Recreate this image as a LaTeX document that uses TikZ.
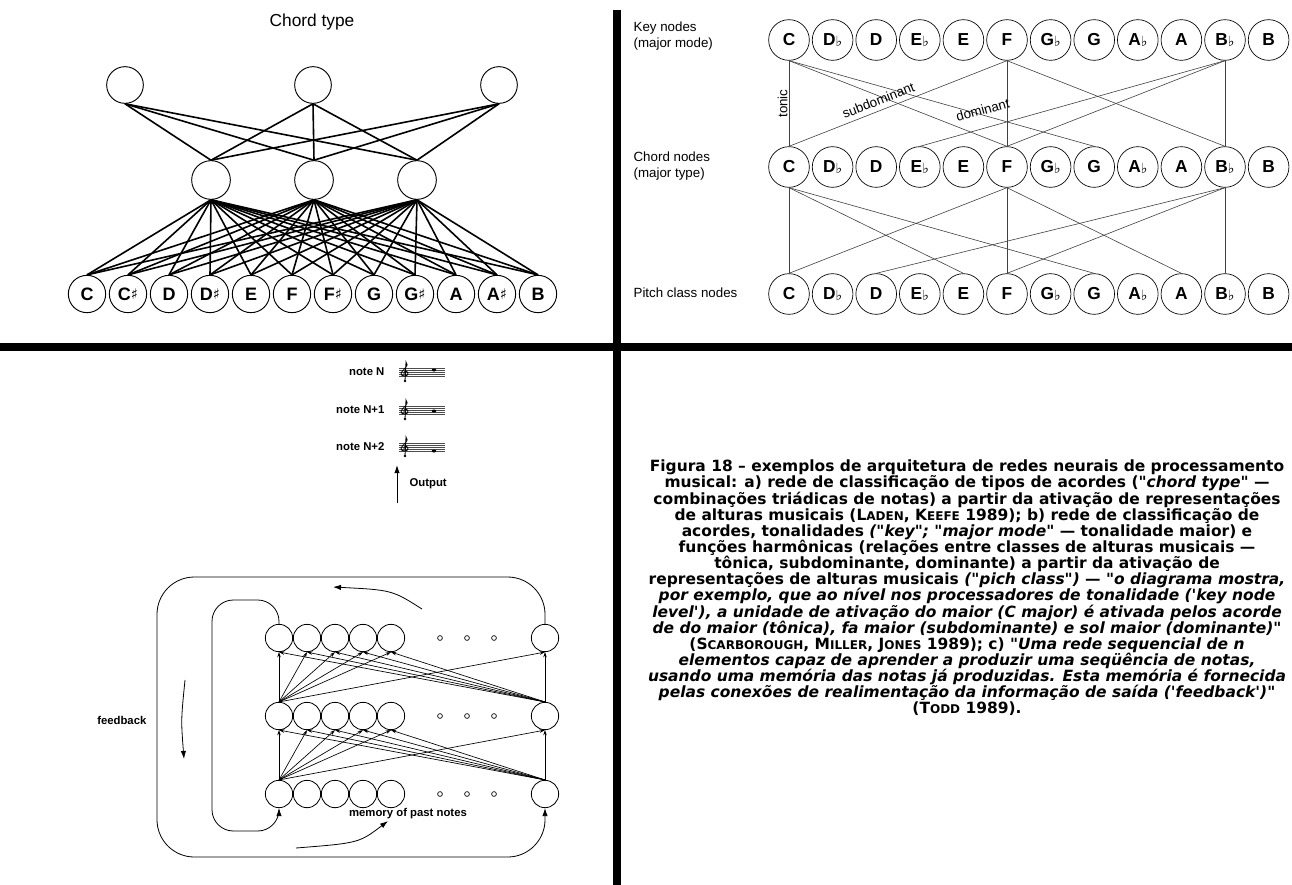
\documentclass[tikz,border=0pt]{standalone}
\usepackage{fontspec}
\setmainfont{Liberation Sans}
\newfontfamily\capfont{DejaVu Sans}
\newfontfamily\musfont{DejaVu Sans}
\usetikzlibrary{arrows.meta}

\newcommand{\shp}{\raisebox{0.5pt}{\musfont\fontsize{11}{11}\selectfont ♯}}
\newcommand{\flt}{\raisebox{-0.5pt}{\musfont\fontsize{10.5}{10.5}\selectfont ♭}}
\newcommand{\fsc}[2]{#1{\fontsize{9}{9}\selectfont #2}}

\tikzset{
  unit/.style={draw,circle,inner sep=0pt,line width=0.7pt},
  pitchunit/.style={unit,minimum size=28pt,font=\bfseries\fontsize{13.5}{13.5}\selectfont},
  keyunit/.style={unit,minimum size=30.5pt,line width=0.5pt,font=\bfseries\fontsize{13}{13}\selectfont},
  memunit/.style={unit,minimum size=20.5pt,line width=0.6pt},
  dotunit/.style={unit,minimum size=3.6pt,line width=0.5pt},
  tlink/.style={line width=1.2pt},
  klink/.style={line width=0.45pt,black!75},
  mlink/.style={line width=0.5pt,-{Stealth[length=4pt,width=2.6pt]}},
  lbl/.style={font=\fontsize{10}{11.5}\selectfont,inner sep=1pt},
  lbl3/.style={font=\bfseries\fontsize{8.5}{10}\selectfont,inner sep=1pt},
  staffline/.style={line width=0.3pt,black!70},
}

\begin{document}
\begin{tikzpicture}[x=0.75pt,y=0.75pt,yscale=-1,xscale=1]
\useasboundingbox (0,0) rectangle (1292,885);

%Straight Lines: panel frame
\coordinate (vtop) at (617,10);
\coordinate (vbot) at (617,885);
\coordinate (hleft) at (0,347);
\coordinate (hright) at (1292,347);
\draw [line width=5.8pt] (vtop) -- (vbot);
\draw [line width=5.8pt] (hleft) -- (hright);

% a) chord type network
\node [font=\fontsize{13}{13}\selectfont] (ctitle) at (312,22) {Chord type};
\foreach \i/\x in {1/125,2/313,3/499}
  \node [unit,minimum size=27.5pt] (top\i) at (\x,85) {};
\foreach \i/\x in {1/211,2/314,3/417}
  \node [unit,minimum size=29pt] (mid\i) at (\x,180) {};
\foreach \l [count=\i] in {C,C\shp,D,D\shp,E,F,F\shp,G,G\shp,A,A\shp,B}
  \node [pitchunit] (pc\i) at ({87+41*(\i-1)},294) {\l};
\foreach \t in {1,2,3}
  \foreach \m in {1,2,3}
    \draw [tlink] (top\t.south) -- (mid\m.north);
\foreach \m in {1,2,3}
  \foreach \p in {1,...,12}
    \draw [tlink] (mid\m.south) -- (pc\p.north);

% b) key / chord / pitch class network
\node [lbl,anchor=west,align=left] (keylbl) at (632,36) {Key nodes\\(major mode)};
\node [lbl,anchor=west,align=left] (chordlbl) at (632,166) {Chord nodes\\(major type)};
\node [lbl,anchor=west] (pitchlbl) at (632,293) {Pitch class nodes};
\foreach \l [count=\i] in {C,D\flt,D,E\flt,E,F,G\flt,G,A\flt,A,B\flt,B} {
  \node [keyunit] (k\i) at ({789+43.6*(\i-1)},40) {\l};
  \node [keyunit] (h\i) at ({789+43.6*(\i-1)},167) {\l};
  \node [keyunit] (q\i) at ({789+43.6*(\i-1)},294) {\l};
}
\foreach \a/\b in {1/1,1/6,1/8,6/6,6/11,6/1,11/11,11/4,11/6}
  \draw [klink] (k\a.south) -- (h\b.north);
\foreach \a/\b in {1/1,1/5,1/8,6/6,6/10,6/1,11/11,11/3,11/6}
  \draw [klink] (h\a.south) -- (q\b.north);
\path (k1.south) -- (h1.north) node [midway,rotate=90,anchor=south,lbl] (tonic) {tonic};
\path (k1.south) -- (h6.north) node [pos=0.4,sloped,below,lbl,inner sep=0.5pt] (subdom) {subdominant};
\path (k1.south) -- (h8.north) node [pos=0.64,sloped,above,lbl,inner sep=0.5pt] (dom) {dominant};

% c) sequential network
\foreach \t/\y/\ny [count=\i] in {note N/372/-2,note N+1/410/1,note N+2/447/4} {
  \node [lbl3,anchor=east] (note\i) at (386,\y) {\t};
  \foreach \s in {-4,-2,0,2,4}
    \draw [staffline] (399,\y+\s) -- (445,\y+\s);
  % clef
  \draw [line width=0.6pt] (405,\y+9) -- (406,\y-10)
    .. controls (410,\y-6) and (403,\y-3) .. (401,\y+1)
    .. controls (400,\y+5) and (409,\y+5) .. (408,\y+1)
    .. controls (407,\y-2) and (403,\y-1) .. (404,\y+2);
  \fill (405,\y+9) circle (1.3);
  \fill (434,\y+\ny) ellipse (2.3 and 1.5);
}
\coordinate (outA) at (397,503);
\coordinate (outB) at (397,465);
\draw [line width=0.7pt,-{Latex[length=6pt,width=4pt]}] (outA) -- (outB);
\node [lbl3,anchor=west] (outlbl) at (408,484) {Output};

\foreach \r/\y in {1/638,2/716,3/794} {
  \foreach \k in {1,...,5}
    \node [memunit] (m\r\k) at ({279+28*(\k-1)},\y) {};
  \foreach \d/\x in {1/440,2/467,3/494}
    \node [dotunit] (d\r\d) at (\x,\y) {};
  \node [memunit] (m\r6) at (545,\y) {};
}
\foreach \lo/\up in {2/1,3/2} {
  \foreach \k in {1,...,6}
    \draw [mlink] (m\lo1.north) -- (m\up\k.south);
  \foreach \k in {1,...,6}
    \draw [mlink] (m\lo6.north) -- (m\up\k.south);
}
% feedback loops
\draw [line width=0.6pt,rounded corners=28pt,-{Latex[length=6pt,width=4pt]}]
  (m16.north) -- (545,577) -- (157,577) -- (157,857) -- (545,857) -- (m36.south);
\draw [line width=0.6pt,rounded corners=16pt,-{Latex[length=6pt,width=4pt]}]
  (m11.north) -- (279,600) -- (212,600) -- (212,831) -- (279,831) -- (m31.south);
\coordinate (fbA) at (422,609);
\coordinate (fbB) at (333,587);
\draw [line width=0.6pt,-{Latex[length=6pt,width=4pt]}] (fbA) .. controls (392,590) .. (fbB);
\coordinate (fdA) at (185,680);
\coordinate (fdB) at (184,759);
\draw [line width=0.6pt,-{Latex[length=6pt,width=4pt]}] (fdA) .. controls (181,720) .. (fdB);
\coordinate (fmA) at (296,848);
\coordinate (fmB) at (388,821);
\draw [line width=0.6pt,-{Latex[length=6pt,width=4pt]}] (fmA) .. controls (359,843) .. (fmB);
\node [lbl3,anchor=east] (fblbl) at (148,720) {feedback};
\node [lbl3] (memlbl) at (408,814) {memory of past notes};

% Text Node: caption
\node [font=\capfont\bfseries\fontsize{11.6}{12.1}\selectfont,align=center] (caption) at (967,588)
 {Figura 18 – exemplos de arquitetura de redes neurais de processamento\\
  musical: a) rede de classificação de tipos de acordes ("\textit{chord type"} —\\
  combinações triádicas de notas) a partir da ativação de representações\\
  de alturas musicais (\fsc{L}{ADEN}, \fsc{K}{EEFE} 1989); b) rede de classificação de\\
  acordes, tonalidades \textit{("key"; "major mode"} — tonalidade maior) e\\
  funções harmônicas (relações entre classes de alturas musicais —\\
  tônica, subdominante, dominante) a partir da ativação de\\
  representações de alturas musicais \textit{("pich class")} — "\textit{o diagrama mostra,}\\
  \textit{por exemplo, que ao nível nos processadores de tonalidade ('key node}\\
  \textit{level'), a unidade de ativação do maior (C major) é ativada pelos acorde}\\
  \textit{de do maior (tônica), fa maior (subdominante) e sol maior (dominante)"}\\
  (\fsc{S}{CARBOROUGH}, \fsc{M}{ILLER}, \fsc{J}{ONES} 1989); c) "\textit{Uma rede sequencial de n}\\
  \textit{elementos capaz de aprender a produzir uma seqüência de notas,}\\
  \textit{usando uma memória das notas já produzidas. Esta memória é fornecida}\\
  \textit{pelas conexões de realimentação da informação de saída ('feedback')"}\\
  (\fsc{T}{ODD} 1989).};

\end{tikzpicture}
\end{document}
